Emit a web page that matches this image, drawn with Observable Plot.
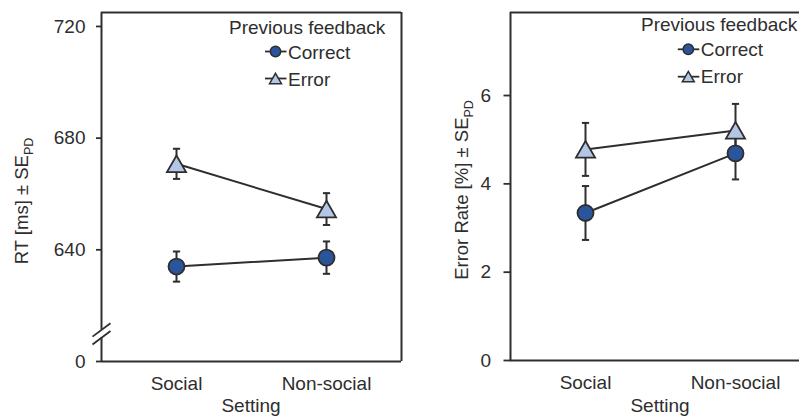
<!DOCTYPE html>
<html>
<head>
<meta charset="utf-8">
<script src="https://cdn.jsdelivr.net/npm/d3@7"></script>
<script src="https://cdn.jsdelivr.net/npm/@observablehq/plot@0.6"></script>
<style>
  html, body { margin: 0; padding: 0; background: #fff; }
  #wrap { position: relative; width: 799px; height: 417px; overflow: hidden; background: #fff; }
  #wrap svg { position: absolute; top: 0; overflow: visible; }
  g[aria-label="y-axis tick"] path { stroke-width: 1.8px; }
</style>
</head>
<body>
<div id="wrap"></div>
<script>
// ---- data ----
const settings = ["Social", "Non-social"];
const feedback = ["Correct", "Error"];

// Reaction time (ms), mean and SE_PD
const rtCorrect   = [634.0, 637.2];
const rtCorrectSE = [5.4, 5.8];
const rtError     = [670.8, 654.6];
const rtErrorSE   = [5.4, 5.7];

// Error rate (%), mean and SE_PD
const erCorrect   = [3.34, 4.69];
const erCorrectSE = [0.61, 0.59];
const erError     = [4.78, 5.21];
const erErrorSE   = [0.60, 0.60];

// axes
const rtDomain = [600, 725];          // 600 is shown as "0" (broken axis)
const rtTicks = [600, 640, 680, 720];
const rtTickLabels = ["0", "640", "680", "720"];
const rtBreak = [608.5, 611.3];       // axis break between these values
const erDomain = [0, 7.88];
const erTicks = [0, 2, 4, 6];
const erTickLabels = ["0", "2", "4", "6"];

// ---- styling ----
const INK = "#2e2e2e";
const DARK = "#2a559b";
const LIGHT = "#b3c6e6";
const FONT = "Liberation Sans, Arial, Helvetica, sans-serif";

const xPos = settings.map((s, i) => i + 0.5);

function rows(cm, cse, em, ese) {
  return settings.flatMap((s, i) => [
    {setting: s, pos: xPos[i], fb: feedback[0], m: cm[i], se: cse[i]},
    {setting: s, pos: xPos[i], fb: feedback[1], m: em[i], se: ese[i]}
  ]);
}

const capSymbol = {
  draw(ctx, size) {
    const w = Math.sqrt(size / Math.PI);
    ctx.moveTo(-w, 0);
    ctx.lineTo(w, 0);
  }
};

function dataMarks(data) {
  return [
    Plot.line(data, {x: "pos", y: "m", z: "fb", stroke: INK, strokeWidth: 2}),
    Plot.ruleX(data, {x: "pos", y1: d => d.m - d.se, y2: d => d.m + d.se, stroke: INK, strokeWidth: 2}),
    Plot.dot(data, {x: "pos", y: d => d.m + d.se, symbol: capSymbol, r: 3.6, stroke: INK, strokeWidth: 2, fill: "none"}),
    Plot.dot(data, {x: "pos", y: d => d.m - d.se, symbol: capSymbol, r: 3.6, stroke: INK, strokeWidth: 2, fill: "none"}),
    Plot.dot(data.filter(d => d.fb === "Error"), {x: "pos", y: "m", symbol: "triangle", r: 7.1, dy: 2.7, fill: LIGHT, stroke: INK, strokeWidth: 1.8}),
    Plot.dot(data.filter(d => d.fb === "Correct"), {x: "pos", y: "m", r: 8, fill: DARK, stroke: INK, strokeWidth: 1.8})
  ];
}

const baseStyle = {fontFamily: FONT, fontSize: "19px", color: INK, background: "transparent"};

// ---- left panel: RT ----
const rtData = rows(rtCorrect, rtCorrectSE, rtError, rtErrorSE);
const svgL = Plot.plot({
  width: 405, height: 417,
  marginLeft: 101, marginRight: 4, marginTop: 12, marginBottom: 56,
  style: baseStyle,
  x: {domain: [0, settings.length], ticks: xPos, tickFormat: d => settings[Math.round(d - 0.5)], tickSize: 0, tickPadding: 15, label: null},
  y: {domain: rtDomain, ticks: rtTicks, tickFormat: d => rtTickLabels[rtTicks.indexOf(d)], tickSize: 5, tickPadding: 11, label: null},
  marks: [
    Plot.ruleY([rtDomain[1]], {stroke: INK, strokeWidth: 2}),
    Plot.ruleY([rtDomain[0]], {stroke: INK, strokeWidth: 2}),
    Plot.ruleX([settings.length], {stroke: INK, strokeWidth: 2}),
    Plot.ruleX([{y1: rtDomain[0], y2: rtBreak[0]}, {y1: rtBreak[1], y2: rtDomain[1]}], {x: () => 0, y1: "y1", y2: "y2", stroke: INK, strokeWidth: 2}),
    Plot.link(rtBreak, {x1: () => -0.06, x2: () => 0.06, y1: d => d - 2.4, y2: d => d + 2.4, stroke: INK, strokeWidth: 1.8}),
    ...dataMarks(rtData)
  ]
});

// ---- right panel: Error rate ----
const erData = rows(erCorrect, erCorrectSE, erError, erErrorSE);
const svgR = Plot.plot({
  width: 410, height: 417,
  marginLeft: 110, marginRight: 0, marginTop: 12, marginBottom: 57,
  style: baseStyle,
  x: {domain: [0, settings.length], ticks: xPos, tickFormat: d => settings[Math.round(d - 0.5)], tickSize: 0, tickPadding: 15, label: null},
  y: {domain: erDomain, ticks: erTicks, tickFormat: d => erTickLabels[erTicks.indexOf(d)], tickSize: 6.5, tickPadding: 13, label: null},
  marks: [
    Plot.ruleY([erDomain[1]], {stroke: INK, strokeWidth: 2}),
    Plot.ruleY([erDomain[0]], {stroke: INK, strokeWidth: 2}),
    Plot.ruleX([0], {stroke: INK, strokeWidth: 2}),
    Plot.ruleX([settings.length], {stroke: INK, strokeWidth: 2}),
    ...dataMarks(erData)
  ]
});

const wrap = document.getElementById("wrap");
svgL.style.left = "0px";
svgR.style.left = "400px";
wrap.appendChild(svgL);
wrap.appendChild(svgR);

// ---- titles and legends ----
function decorate(svg, o) {
  const s = d3.select(svg);
  const g = s.append("g").attr("font-family", FONT).attr("fill", INK).attr("text-anchor", "start");
  // y label with subscript
  const yl = g.append("text")
    .attr("transform", `translate(${o.ylx},${o.yly}) rotate(-90)`)
    .attr("text-anchor", "middle")
    .attr("font-size", 18.5);
  yl.append("tspan").text(o.ylabel);
  yl.append("tspan").attr("font-size", 12.5).attr("dy", 4.5).text("PD");
  // x label
  g.append("text").attr("x", o.xlx).attr("y", 412).attr("text-anchor", "middle").attr("font-size", 19).text("Setting");
  // legend
  g.append("text").attr("x", o.lgx).attr("y", o.lgy).attr("text-anchor", "start").attr("font-size", 19).text("Previous feedback");
  const items = [
    {label: feedback[0], sym: d3.symbolCircle, size: Math.PI * 27, fill: DARK, dy: 0},
    {label: feedback[1], sym: d3.symbolTriangle, size: 62, fill: LIGHT, dy: 1.7}
  ];
  items.forEach((it, i) => {
    const cy = o.my[i];
    g.append("line").attr("x1", o.mx - 10.5).attr("x2", o.mx + 11).attr("y1", cy).attr("y2", cy)
      .attr("stroke", INK).attr("stroke-width", 1.8);
    g.append("path").attr("d", d3.symbol(it.sym, it.size)())
      .attr("transform", `translate(${o.mx},${cy + it.dy})`)
      .attr("fill", it.fill).attr("stroke", INK).attr("stroke-width", 1.5);
    g.append("text").attr("x", o.mx + 12.5).attr("y", o.ty[i]).attr("text-anchor", "start").attr("font-size", 19).text(it.label);
  });
}

decorate(svgL, {ylabel: "RT [ms] ± SE", ylx: 28, yly: 201, xlx: 251, lgx: 229, lgy: 34, mx: 275.5, my: [51.5, 78.5], ty: [58.5, 85.5]});
decorate(svgR, {ylabel: "Error Rate [%] ± SE", ylx: 68, yly: 190, xlx: 260, lgx: 241, lgy: 31, mx: 288.3, my: [49.3, 76.7], ty: [55.5, 83]});
</script>
</body>
</html>
